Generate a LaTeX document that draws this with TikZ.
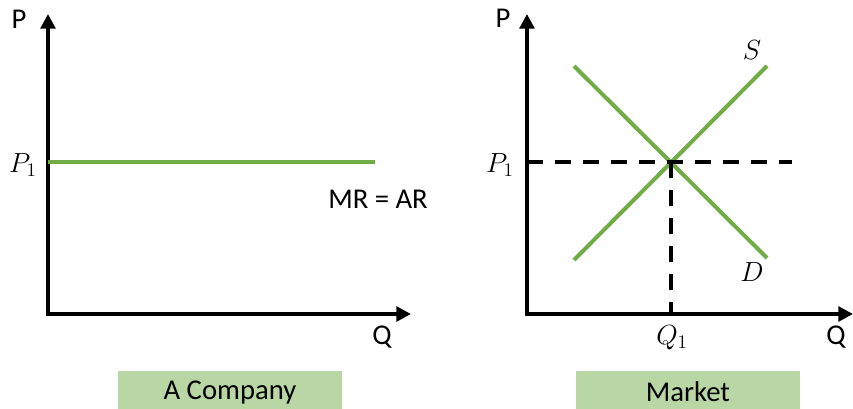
\documentclass[tikz,border=0pt]{standalone}
\usepackage{fontspec}
\setmainfont{Carlito}
\usetikzlibrary{arrows.meta}
\definecolor{curve}{HTML}{70AD47}
\definecolor{boxfill}{HTML}{B9D6A5}
\tikzset{
  axis/.style={line width=3pt, -{Triangle[length=11pt,width=11pt]}},
  curveline/.style={curve, line width=3pt},
  guide/.style={line width=3pt, dash pattern=on 12pt off 9pt},
  lbl/.style={font=\fontsize{21.5}{24}\selectfont, inner sep=0pt},
  caption/.style={fill=boxfill, minimum width=168pt, minimum height=28.5pt, inner sep=0pt}
}
\begin{document}
\begin{tikzpicture}[x=0.75pt,y=-0.75pt]
\useasboundingbox (0,0) rectangle (853,408);
% Left panel
\coordinate (LY) at (48,14);
\coordinate (LX) at (411,314);
\coordinate (LP1) at (48,162);
\coordinate (LMR) at (375,162);
\draw[axis] (48,316) -- (LY);
\draw[axis] (46.5,314) -- (LX);
\draw[curveline] (LP1) -- (LMR);
\node[lbl] (lP) at (19,19) {P};
\node[lbl] (lP1) at (23,165) {$P_1$};
\node[lbl] (lMR) at (378,199) {MR = AR};
\node[lbl] (lQ) at (382,337) {Q};
\node[caption] (capA) at (230,389.5) {};
\node[lbl] (capAt) at (230,392) {A Company};
% Right panel
\coordinate (RY) at (527,14);
\coordinate (RX) at (853,314);
\coordinate (RP1) at (527,162);
\coordinate (RE) at (671,162);
\coordinate (RQ1) at (671,314);
\coordinate (Rdash) at (792,162);
\coordinate (S0) at (574,260);
\coordinate (S1) at (767,66);
\coordinate (D0) at (574,66);
\coordinate (D1) at (767,258);
\draw[axis] (527,316) -- (RY);
\draw[axis] (525.5,314) -- (RX);
\draw[curveline] (S0) -- (S1);
\draw[curveline] (D0) -- (D1);
\draw[guide] (RP1) -- (Rdash);
\draw[guide] (RE) -- (RQ1);
\node[lbl] (rP) at (503,18) {P};
\node[lbl] (rP1) at (500,165) {$P_1$};
\node[lbl] (rS) at (752,50) {$S$};
\node[lbl] (rD) at (752,272) {$D$};
\node[lbl] (rQ1) at (672,338) {$Q_1$};
\node[lbl] (rQ) at (836,337) {Q};
\node[caption] (capM) at (687.5,389.5) {};
\node[lbl] (capMt) at (688,392) {Market};
\end{tikzpicture}
\end{document}
